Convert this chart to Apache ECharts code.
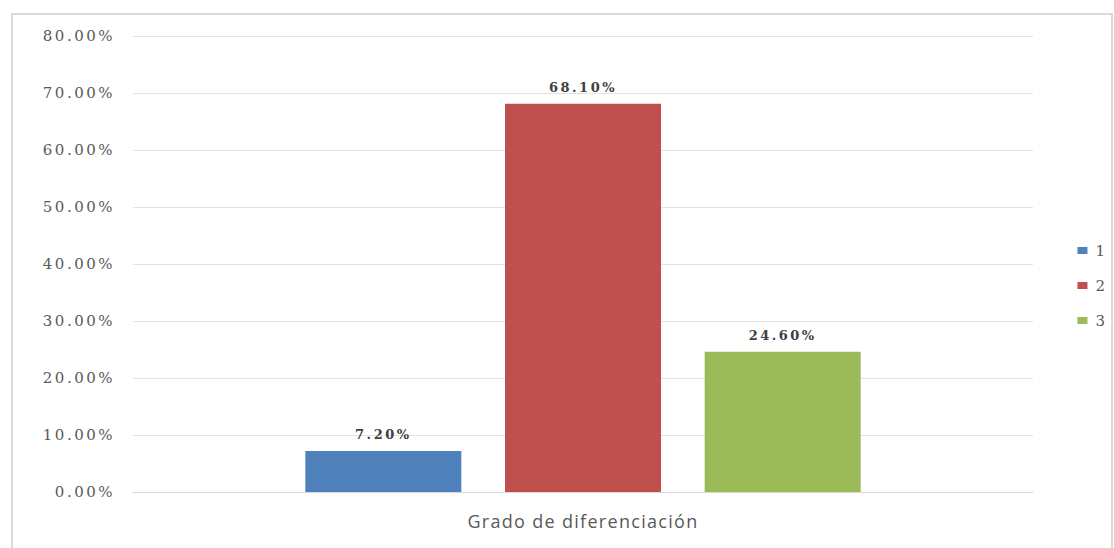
<!DOCTYPE html>
<html>
<head>
<meta charset="utf-8">
<script src="https://cdn.jsdelivr.net/npm/echarts@6/dist/echarts.min.js"></script>
<style>
  html, body { margin: 0; padding: 0; background: #fff; }
  #chart { width: 1114px; height: 548px; }
  /* wide, airy lettering for the numeric labels and the axis name */
  #chart text[style*="DejaVu Serif"], #chart text[font-family*="DejaVu Serif"] { letter-spacing: 2.5px; }
  #chart text[style*="Open Sans"], #chart text[font-family*="Open Sans"] { letter-spacing: 1.3px; }
</style>
</head>
<body>
<div id="chart"></div>
<script>
// Category on the x axis and the three grades shown as separate series
const categories = ['Grado de diferenciación'];
const seriesNames = ['1', '2', '3'];
const seriesValues = [[7.2], [68.1], [24.6]];
const seriesColors = ['#4f81bd', '#c0504d', '#9bbb59'];
const yTicks = [0, 10, 20, 30, 40, 50, 60, 70, 80];

const chart = echarts.init(document.getElementById('chart'), null, { renderer: 'svg' });

chart.setOption({
  backgroundColor: '#ffffff',
  animation: false,
  graphic: [{
    type: 'rect',
    shape: { x: 12, y: 14, width: 1100, height: 540 },
    style: { fill: 'none', stroke: '#d9d9d9', lineWidth: 2 },
    silent: true
  }],
  grid: { left: 133, right: 81, top: 36, bottom: 56 },
  legend: {
    orient: 'vertical',
    right: 4,
    top: 238,
    itemWidth: 10,
    itemHeight: 7,
    itemGap: 20,
    icon: 'rect',
    textStyle: { fontFamily: 'DejaVu Serif', fontSize: 15, color: '#595959', padding: [0, 0, 0, 3] },
    data: seriesNames
  },
  xAxis: {
    type: 'category',
    data: categories,
    axisLine: { lineStyle: { color: '#d9d9d9' } },
    axisTick: { show: false },
    axisLabel: { fontFamily: 'Open Sans', fontSize: 18, color: '#595959', margin: 20 }
  },
  yAxis: {
    type: 'value',
    min: yTicks[0],
    max: yTicks[yTicks.length - 1],
    interval: 10,
    axisLine: { show: false },
    axisTick: { show: false },
    splitLine: { lineStyle: { color: '#e3e3e3' } },
    axisLabel: {
      fontFamily: 'DejaVu Serif',
      fontSize: 15,
      color: '#595959',
      margin: 18,
      formatter: v => v.toFixed(2) + '%'
    }
  },
  series: seriesNames.map((name, i) => ({
    name: name,
    type: 'bar',
    data: seriesValues[i],
    barWidth: 156,
    barGap: '28%',
    itemStyle: { color: seriesColors[i] },
    label: {
      show: true,
      position: 'top',
      distance: 10,
      fontFamily: 'DejaVu Serif',
      fontSize: 13,
      fontWeight: 'bold',
      color: '#404040',
      formatter: p => p.value.toFixed(2) + '%'
    }
  }))
});
</script>
</body>
</html>
